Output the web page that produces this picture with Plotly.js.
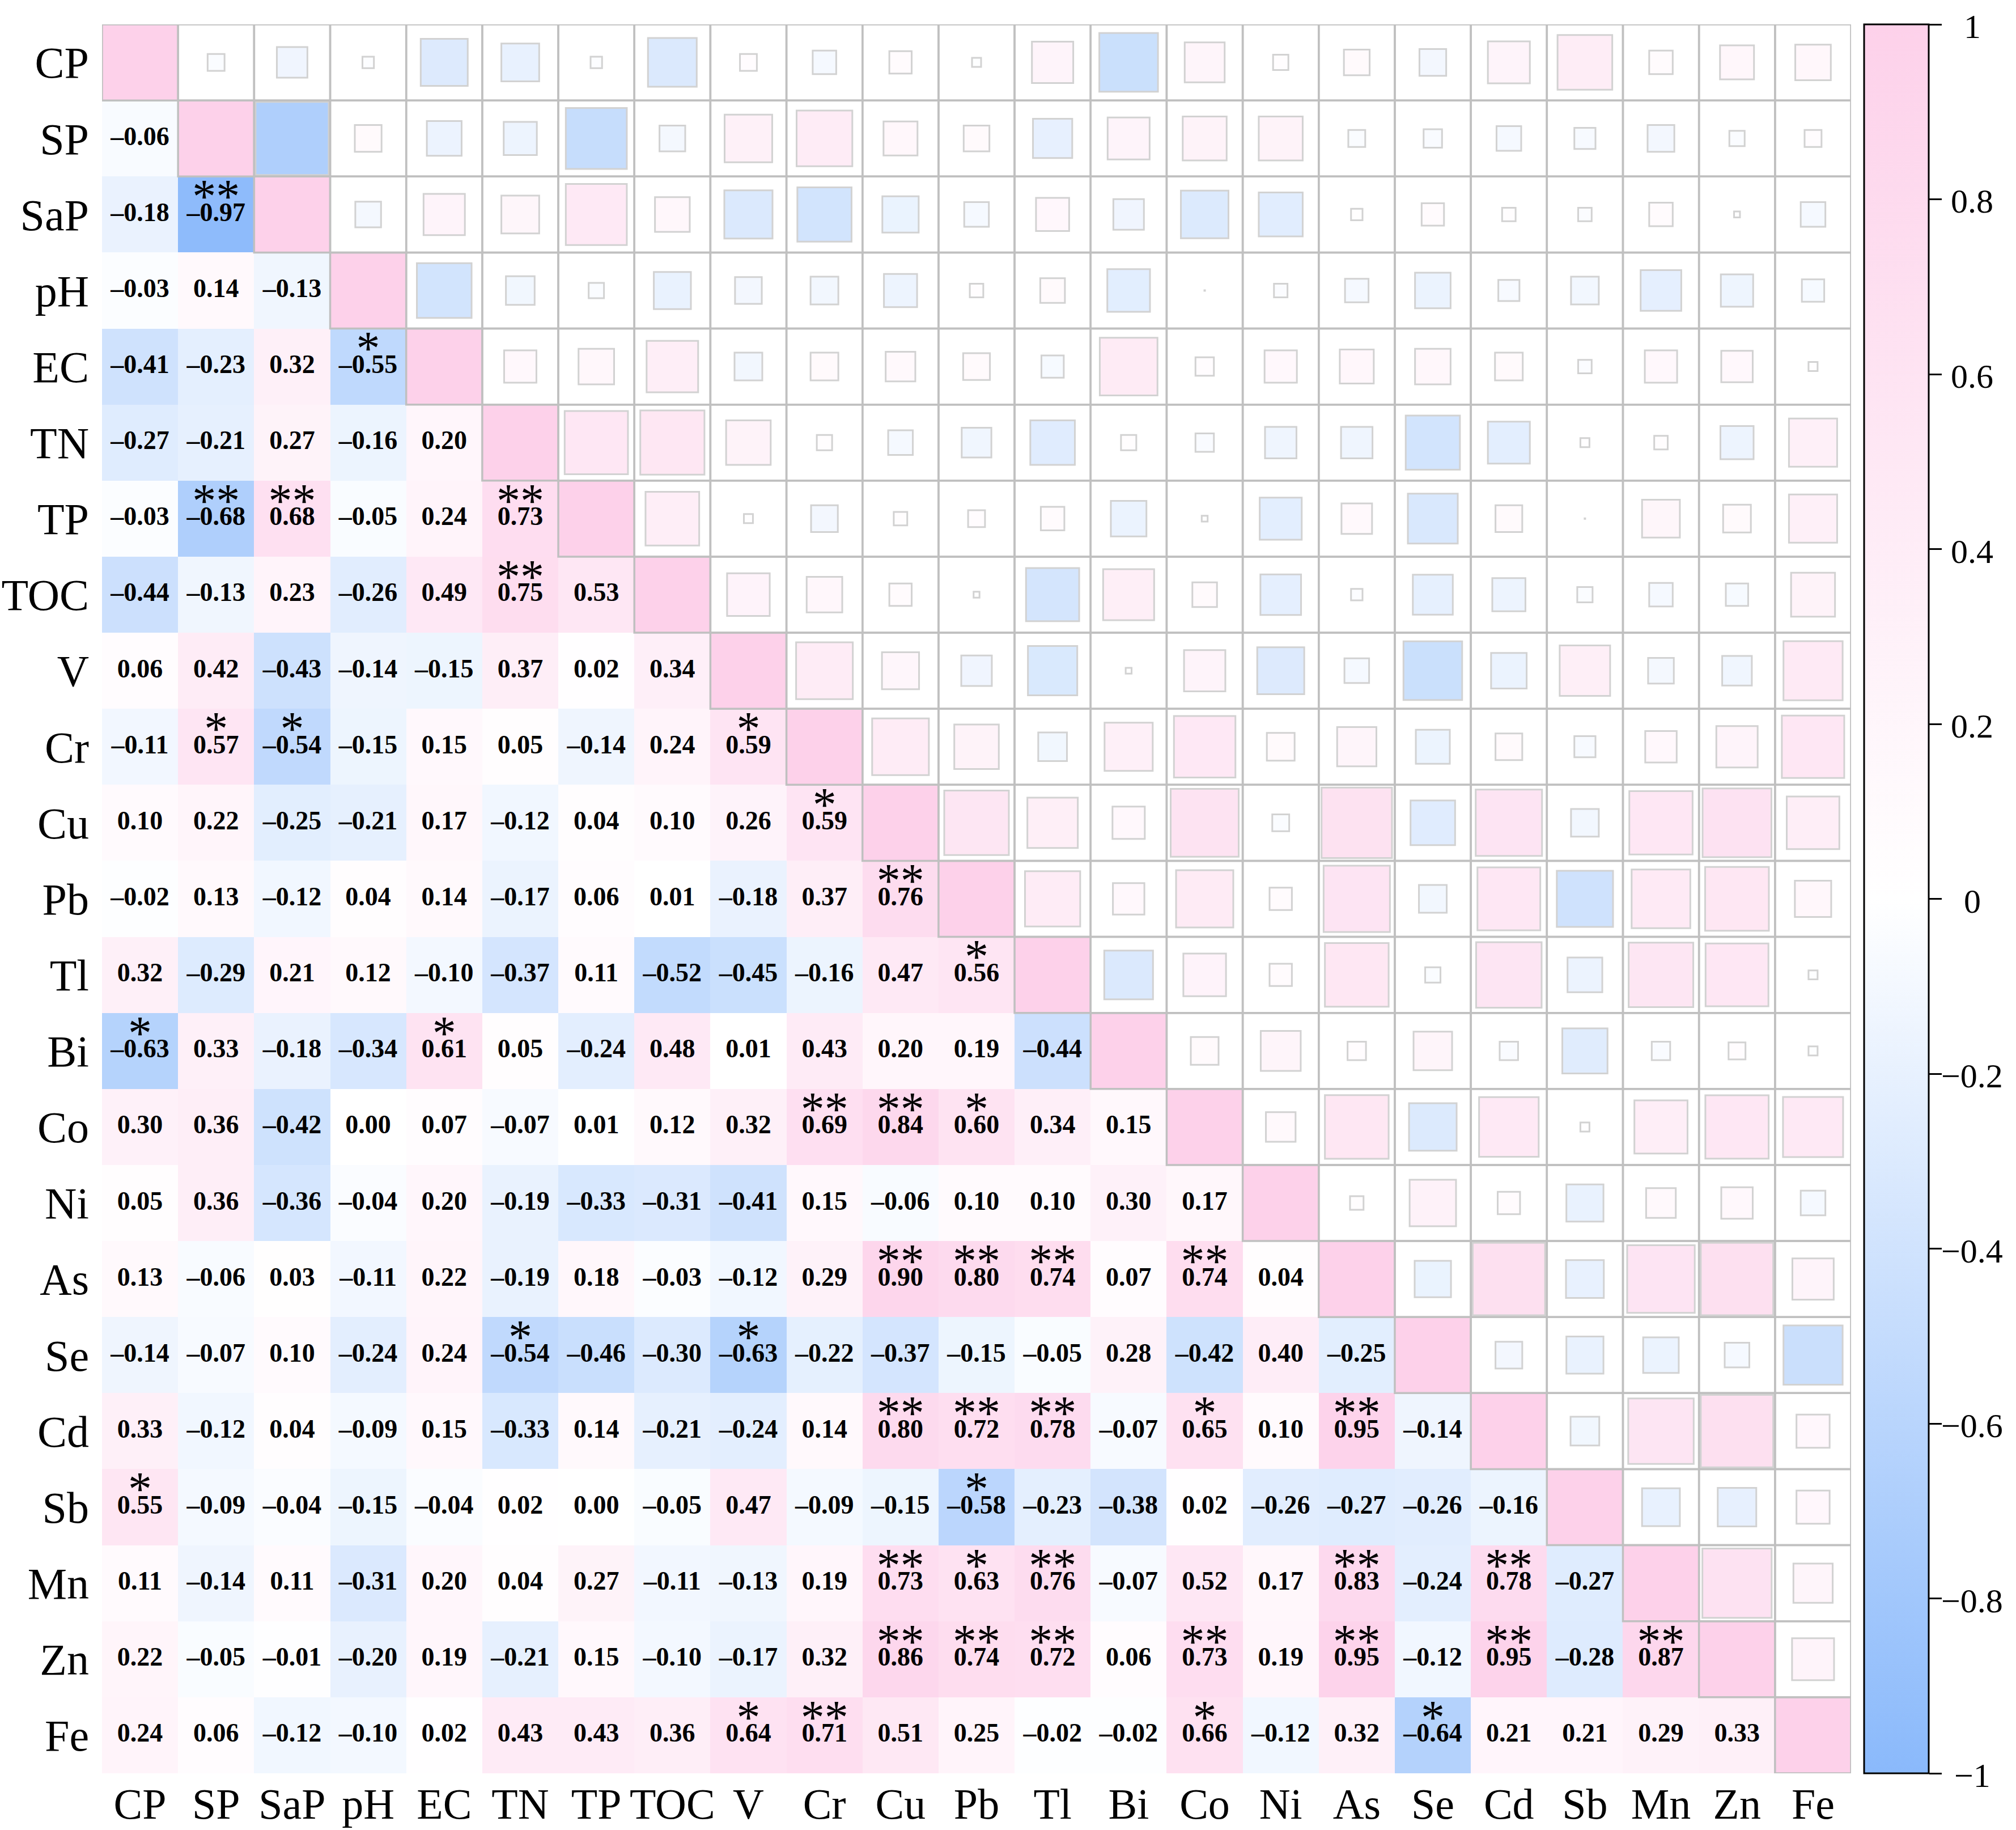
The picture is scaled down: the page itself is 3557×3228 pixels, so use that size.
<!DOCTYPE html>
<html>
<head>
<meta charset="utf-8">
<script src="https://cdn.plot.ly/plotly-3.0.1.min.js"></script>
<style>html,body{margin:0;padding:0;background:#fff;}</style>
</head>
<body>
<div id="chart" style="width:3557px;height:3228px;"></div>
<script>
// ---- DATA ----
const variables = ['CP','SP','SaP','pH','EC','TN','TP','TOC','V','Cr','Cu','Pb','Tl','Bi','Co','Ni','As','Se','Cd','Sb','Mn','Zn','Fe'];

// Lower-triangle correlation coefficients, one row per variable (columns in variable order)
const r_SP  = [-0.06];
const r_SaP = [-0.18, -0.97];
const r_pH  = [-0.03, 0.14, -0.13];
const r_EC  = [-0.41, -0.23, 0.32, -0.55];
const r_TN  = [-0.27, -0.21, 0.27, -0.16, 0.20];
const r_TP  = [-0.03, -0.68, 0.68, -0.05, 0.24, 0.73];
const r_TOC = [-0.44, -0.13, 0.23, -0.26, 0.49, 0.75, 0.53];
const r_V   = [0.06, 0.42, -0.43, -0.14, -0.15, 0.37, 0.02, 0.34];
const r_Cr  = [-0.11, 0.57, -0.54, -0.15, 0.15, 0.05, -0.14, 0.24, 0.59];
const r_Cu  = [0.10, 0.22, -0.25, -0.21, 0.17, -0.12, 0.04, 0.10, 0.26, 0.59];
const r_Pb  = [-0.02, 0.13, -0.12, 0.04, 0.14, -0.17, 0.06, 0.01, -0.18, 0.37, 0.76];
const r_Tl  = [0.32, -0.29, 0.21, 0.12, -0.10, -0.37, 0.11, -0.52, -0.45, -0.16, 0.47, 0.56];
const r_Bi  = [-0.63, 0.33, -0.18, -0.34, 0.61, 0.05, -0.24, 0.48, 0.01, 0.43, 0.20, 0.19, -0.44];
const r_Co  = [0.30, 0.36, -0.42, 0.00, 0.07, -0.07, 0.01, 0.12, 0.32, 0.69, 0.84, 0.60, 0.34, 0.15];
const r_Ni  = [0.05, 0.36, -0.36, -0.04, 0.20, -0.19, -0.33, -0.31, -0.41, 0.15, -0.06, 0.10, 0.10, 0.30, 0.17];
const r_As  = [0.13, -0.06, 0.03, -0.11, 0.22, -0.19, 0.18, -0.03, -0.12, 0.29, 0.90, 0.80, 0.74, 0.07, 0.74, 0.04];
const r_Se  = [-0.14, -0.07, 0.10, -0.24, 0.24, -0.54, -0.46, -0.30, -0.63, -0.22, -0.37, -0.15, -0.05, 0.28, -0.42, 0.40, -0.25];
const r_Cd  = [0.33, -0.12, 0.04, -0.09, 0.15, -0.33, 0.14, -0.21, -0.24, 0.14, 0.80, 0.72, 0.78, -0.07, 0.65, 0.10, 0.95, -0.14];
const r_Sb  = [0.55, -0.09, -0.04, -0.15, -0.04, 0.02, 0.00, -0.05, 0.47, -0.09, -0.15, -0.58, -0.23, -0.38, 0.02, -0.26, -0.27, -0.26, -0.16];
const r_Mn  = [0.11, -0.14, 0.11, -0.31, 0.20, 0.04, 0.27, -0.11, -0.13, 0.19, 0.73, 0.63, 0.76, -0.07, 0.52, 0.17, 0.83, -0.24, 0.78, -0.27];
const r_Zn  = [0.22, -0.05, -0.01, -0.20, 0.19, -0.21, 0.15, -0.10, -0.17, 0.32, 0.86, 0.74, 0.72, 0.06, 0.73, 0.19, 0.95, -0.12, 0.95, -0.28, 0.87];
const r_Fe  = [0.24, 0.06, -0.12, -0.10, 0.02, 0.43, 0.43, 0.36, 0.64, 0.71, 0.51, 0.25, -0.02, -0.02, 0.66, -0.12, 0.32, -0.64, 0.21, 0.21, 0.29, 0.33];

// Significance marks [row variable, column variable, mark]
const significance = [
  ['SaP','SP','**'], ['EC','pH','*'],
  ['TP','SP','**'], ['TP','SaP','**'], ['TP','TN','**'],
  ['TOC','TN','**'],
  ['Cr','SP','*'], ['Cr','SaP','*'], ['Cr','V','*'],
  ['Cu','Cr','*'], ['Pb','Cu','**'], ['Tl','Pb','*'],
  ['Bi','CP','*'], ['Bi','EC','*'],
  ['Co','Cr','**'], ['Co','Cu','**'], ['Co','Pb','*'],
  ['As','Cu','**'], ['As','Pb','**'], ['As','Tl','**'], ['As','Co','**'],
  ['Se','TN','*'], ['Se','V','*'],
  ['Cd','Cu','**'], ['Cd','Pb','**'], ['Cd','Tl','**'], ['Cd','Co','*'], ['Cd','As','**'],
  ['Sb','CP','*'], ['Sb','Pb','*'],
  ['Mn','Cu','**'], ['Mn','Pb','*'], ['Mn','Tl','**'], ['Mn','As','**'], ['Mn','Cd','**'],
  ['Zn','Cu','**'], ['Zn','Pb','**'], ['Zn','Tl','**'], ['Zn','Co','**'], ['Zn','As','**'], ['Zn','Cd','**'], ['Zn','Mn','**'],
  ['Fe','V','*'], ['Fe','Cr','**'], ['Fe','Co','*'], ['Fe','Se','*']
];

const colorbarTickVals = [-1, -0.8, -0.6, -0.4, -0.2, 0, 0.2, 0.4, 0.6, 0.8, 1];
const colorbarTickText = ['\u22121', '\u22120.8', '\u22120.6', '\u22120.4', '\u22120.2', '0', '0.2', '0.4', '0.6', '0.8', '1'];

// ---- BUILD ----
const lowerRows = [[], r_SP, r_SaP, r_pH, r_EC, r_TN, r_TP, r_TOC, r_V, r_Cr, r_Cu, r_Pb, r_Tl, r_Bi, r_Co, r_Ni, r_As, r_Se, r_Cd, r_Sb, r_Mn, r_Zn, r_Fe];
const n = variables.length;
const M = [];
for (let i = 0; i < n; i++) { M.push(new Array(n).fill(null)); }
for (let i = 0; i < n; i++) {
  M[i][i] = 1;
  for (let j = 0; j < i; j++) { M[i][j] = lowerRows[i][j]; M[j][i] = lowerRows[i][j]; }
}

const W = 3557, H = 3228;
const margin = {l: 180, r: 291, t: 43, b: 100, autoexpand: false};
const plotW = W - margin.l - margin.r;
const cellPx = plotW / n;

const colorscale = [[0, 'rgb(138,185,251)'], [0.5, 'rgb(255,255,255)'], [1, 'rgb(253,209,234)']];
const serif = 'Liberation Serif, Times New Roman, serif';
const gridGray = '#c0c0c0';

// heatmap: lower triangle + diagonal
const idx = variables.map((_, k) => k);
const zLower = M.map((row, i) => row.map((v, j) => (j <= i ? v : null)));

const heat = {
  type: 'heatmap', x: idx, y: idx, z: zLower,
  zmin: -1, zmax: 1, colorscale: colorscale, hoverinfo: 'skip',
  xgap: 0, ygap: 0,
  colorbar: {
    thickness: 114, thicknessmode: 'pixels', len: 1, lenmode: 'fraction',
    x: 1 + 23 / plotW, xanchor: 'left', xpad: 0, y: 0.5, yanchor: 'middle', ypad: 0,
    outlinewidth: 3, outlinecolor: '#000',
    ticks: 'outside', ticklen: 22, tickwidth: 3, tickcolor: '#000',
    tickmode: 'array', tickvals: colorbarTickVals, showticklabels: false
  }
};

// centered colorbar tick labels (as in the reference)
const cbAnnotations = colorbarTickVals.map((v, k) => ({
  xref: 'paper', yref: 'paper', x: 1 + (3480 - 3266) / plotW, y: (v + 1) / 2,
  xanchor: 'center', yanchor: 'middle', yshift: -4, showarrow: false,
  text: colorbarTickText[k], font: {family: serif, size: 60, color: '#000'}
}));

// squares in upper triangle
const sqX = [], sqY = [], sqC = [], sqS = [];
const lw = 3;
for (let i = 0; i < n; i++) {
  for (let j = i + 1; j < n; j++) {
    const v = M[i][j];
    sqX.push(j); sqY.push(i); sqC.push(v);
    sqS.push(Math.max(1, Math.sqrt(Math.abs(v)) * cellPx - lw));
  }
}
const squares = {
  type: 'scatter', mode: 'markers', x: sqX, y: sqY, hoverinfo: 'skip', showlegend: false,
  marker: {symbol: 'square', size: sqS, color: sqC, cmin: -1, cmax: 1, colorscale: colorscale,
           showscale: false, line: {color: gridGray, width: lw}}
};

// numbers in lower triangle
const tX = [], tY = [], tT = [];
for (let i = 1; i < n; i++) {
  for (let j = 0; j < i; j++) {
    const v = M[i][j];
    tX.push(j); tY.push(i);
    tT.push((v < 0 ? '\u2013' : '') + Math.abs(v).toFixed(2));
  }
}
const nums = {
  type: 'scatter', mode: 'text', x: tX, y: tY, text: tT, hoverinfo: 'skip', showlegend: false,
  textposition: 'middle center',
  textfont: {family: serif, size: 46, color: '#000', weight: 'bold'}
};

// stars
const sX = [], sY = [], sT = [];
significance.forEach(([a, b, mark]) => {
  sX.push(variables.indexOf(b)); sY.push(variables.indexOf(a) - 0.18); sT.push(mark);
});
const stars = {
  type: 'scatter', mode: 'text', x: sX, y: sY, text: sT, hoverinfo: 'skip', showlegend: false,
  textposition: 'middle center',
  textfont: {family: serif, size: 84, color: '#000'}
};

// grid borders on diagonal + upper triangle cells
const shapes = [];
for (let i = 0; i < n; i++) {
  for (let j = i; j < n; j++) {
    shapes.push({type: 'rect', xref: 'x', yref: 'y', x0: j - 0.5, x1: j + 0.5, y0: i - 0.5, y1: i + 0.5,
                 line: {color: gridGray, width: 3.5}, fillcolor: 'rgba(0,0,0,0)', layer: 'above'});
  }
}

const layout = {
  width: W, height: H, margin: margin, paper_bgcolor: '#fff', plot_bgcolor: '#fff',
  showlegend: false,
  xaxis: {range: [-0.5, n - 0.5], tickmode: 'array', tickvals: idx, ticktext: variables,
          showgrid: false, zeroline: false, showline: false, ticks: '', ticklabelstandoff: 3,
          tickfont: {family: serif, size: 76, color: '#000'}, fixedrange: true},
  yaxis: {range: [n - 0.5, -0.5], tickmode: 'array', tickvals: idx, ticktext: variables,
          showgrid: false, zeroline: false, showline: false, ticks: '', ticklabelstandoff: 22,
          tickfont: {family: serif, size: 78, color: '#000'}, fixedrange: true},
  shapes: shapes,
  annotations: cbAnnotations
};

Plotly.newPlot('chart', [heat, squares, nums, stars], layout, {staticPlot: true});
</script>
</body>
</html>
